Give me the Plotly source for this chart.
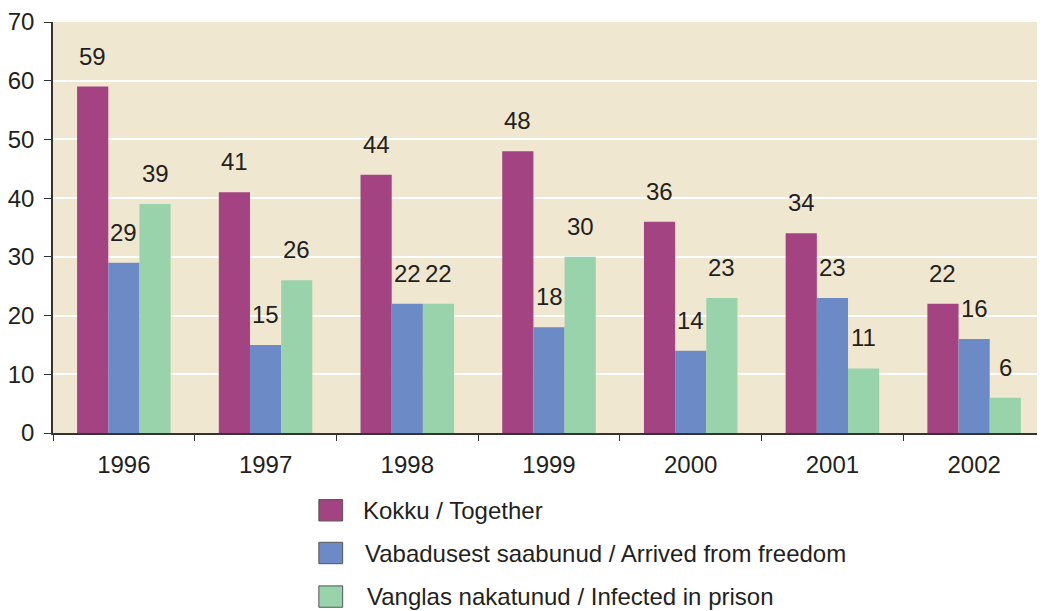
import plotly.graph_objects as go

years = ['1996', '1997', '1998', '1999', '2000', '2001', '2002']
kokku = [59, 41, 44, 48, 36, 34, 22]
vabadusest = [29, 15, 22, 18, 14, 23, 16]
vanglas = [39, 26, 22, 30, 23, 11, 6]

series = [
    ('Kokku / Together', kokku, '#A34382'),
    ('Vabadusest saabunud / Arrived from freedom', vabadusest, '#6B8AC6'),
    ('Vanglas nakatunud / Infected in prison', vanglas, '#99D3AC'),
]

FONT = 'Liberation Sans, Arial, sans-serif'
FS = 24
BAR_W = 0.22  # width of one bar in category units (3 bars, bargap 0.34)

fig = go.Figure()
for name, vals, color in series:
    fig.add_trace(go.Bar(
        x=years, y=vals, name=name,
        marker=dict(color=color, line=dict(width=0)),
        showlegend=False,
    ))

# value labels above the bars
annotations = []
for k, (name, vals, color) in enumerate(series):
    for i, v in enumerate(vals):
        annotations.append(dict(
            x=i + (k - 1) * BAR_W, y=v, xref='x', yref='y',
            text=str(v), showarrow=False, yanchor='bottom',
            yshift=15, font=dict(size=FS, color='#231f20', family=FONT),
        ))

# legend drawn below the plot
shapes = []
leg_y = [-0.188, -0.292, -0.398]
leg_tx = [0.310, 0.312, 0.315]
for k, (name, vals, color) in enumerate(series):
    shapes.append(dict(
        type='rect', xref='paper', yref='paper',
        x0=0.268, x1=0.292, y0=leg_y[k] - 0.026, y1=leg_y[k] + 0.026,
        fillcolor=color, line=dict(color='#555555', width=1),
    ))
    annotations.append(dict(
        x=leg_tx[k], y=leg_y[k], xref='paper', yref='paper',
        text=name, showarrow=False, xanchor='left', yanchor='middle',
        font=dict(size=FS, color='#231f20', family=FONT),
    ))

# page body has an 8px margin, so the figure is 8px smaller than the window
fig.update_layout(
    width=1037, height=603,
    margin=dict(l=44, r=0, t=10, b=178),
    paper_bgcolor='white',
    plot_bgcolor='#F0E7D0',
    barmode='group',
    bargap=0.34,
    bargroupgap=0,
    font=dict(family=FONT, size=FS, color='#231f20'),
    xaxis=dict(
        type='category', tickson='boundaries', ticks='outside', ticklen=6,
        tickcolor='#333333', showline=True, linecolor='#333333', linewidth=1.5,
        showgrid=False, tickfont=dict(size=FS), ticklabelstandoff=9,
    ),
    yaxis=dict(
        range=[0, 70], dtick=10, ticks='outside', ticklen=7,
        tickcolor='#333333', showline=True, linecolor='#333333', linewidth=1.5,
        gridcolor='white', gridwidth=1.5, zeroline=False,
        tickfont=dict(size=FS), ticklabelstandoff=5,
        ticklabeloverflow='allow',
    ),
    annotations=annotations,
    shapes=shapes,
)

fig.write_html("out.html")
